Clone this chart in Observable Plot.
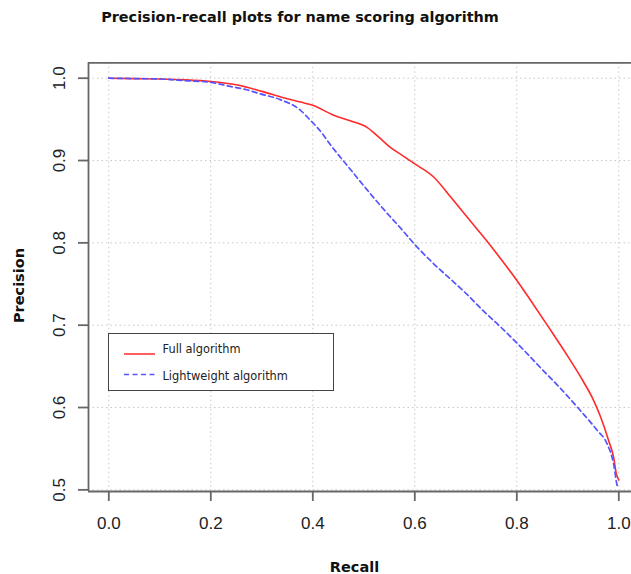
<!DOCTYPE html>
<html>
<head>
<meta charset="utf-8">
<script src="https://cdn.jsdelivr.net/npm/d3@7"></script>
<script src="https://cdn.jsdelivr.net/npm/@observablehq/plot@0.6"></script>
<style>
  html, body { margin: 0; padding: 0; background: #fff; }
  #wrap { position: relative; width: 631px; height: 574px; overflow: hidden; }
  #title { position: absolute; left: 0; top: 7px; width: 600px; text-align: center;
           font: bold 14.4px "DejaVu Sans", sans-serif; line-height: 20px; color: #111; }
  #chart { position: absolute; left: 0; top: 40px; }
  #legend { position: absolute; left: 108px; top: 333px; width: 226px; height: 58px;
            border: 1.5px solid #444; background: #fff; box-sizing: border-box; }
  #legend svg { position: absolute; left: -1.5px; top: -1.5px; }
</style>
</head>
<body>
<div id="wrap">
  <div id="title">Precision-recall plots for name scoring algorithm</div>
  <div id="chart"></div>
  <div id="legend"></div>
</div>
<script>
// ---- data ----
const recallFull = [0, 0.05, 0.10, 0.15, 0.20, 0.25, 0.30, 0.35, 0.376, 0.40, 0.441, 0.475, 0.507, 0.53, 0.552, 0.576, 0.600, 0.637, 0.670, 0.703, 0.735, 0.768, 0.804, 0.824, 0.862, 0.895, 0.931, 0.948, 0.964, 0.980, 0.990, 0.995, 1.0];
const precisionFull = [1.0, 0.9995, 0.999, 0.998, 0.996, 0.992, 0.984, 0.975, 0.971, 0.967, 0.955, 0.948, 0.940, 0.928, 0.916, 0.906, 0.896, 0.880, 0.856, 0.831, 0.807, 0.781, 0.751, 0.733, 0.698, 0.667, 0.631, 0.612, 0.589, 0.560, 0.539, 0.520, 0.512];

const recallLight = [0, 0.05, 0.10, 0.15, 0.20, 0.238, 0.27, 0.297, 0.336, 0.376, 0.395, 0.409, 0.441, 0.474, 0.507, 0.540, 0.572, 0.600, 0.638, 0.670, 0.703, 0.735, 0.768, 0.791, 0.807, 0.847, 0.886, 0.925, 0.958, 0.977, 0.990, 0.997, 1.0];
const precisionLight = [1.0, 0.9995, 0.999, 0.997, 0.995, 0.990, 0.986, 0.981, 0.974, 0.961, 0.949, 0.940, 0.914, 0.889, 0.864, 0.840, 0.818, 0.798, 0.774, 0.756, 0.737, 0.717, 0.698, 0.684, 0.674, 0.648, 0.623, 0.596, 0.572, 0.556, 0.531, 0.505, 0.502];

const xTicks = [0.0, 0.2, 0.4, 0.6, 0.8, 1.0];
const yTicks = [0.5, 0.6, 0.7, 0.8, 0.9, 1.0];
const seriesNames = ["Full algorithm", "Lightweight algorithm"];
const seriesColors = ["#ff2a2a", "#5555ff"];

// ---- build ----
const full = recallFull.map((r, i) => ({recall: r, precision: precisionFull[i]}));
const light = recallLight.map((r, i) => ({recall: r, precision: precisionLight[i]}));

const xDomain = [-0.0398, 1.0249];
const yDomain = [0.498, 1.0187];
const frameColor = "#666";
const gridStyle = {stroke: "#c8c8c8", strokeWidth: 1, strokeDasharray: "1.5,3"};

const plot = Plot.plot({
  width: 631,
  height: 534,
  marginLeft: 88,
  marginRight: 0,
  marginTop: 22.3,
  marginBottom: 83,
  style: {background: "transparent", fontFamily: "'Liberation Sans', Arial, sans-serif", overflow: "visible"},
  x: {domain: xDomain, axis: null},
  y: {domain: yDomain, axis: null},
  marks: [
    Plot.ruleX(xTicks, gridStyle),
    Plot.ruleY(yTicks, gridStyle),
    Plot.line(full, {x: "recall", y: "precision", stroke: seriesColors[0], strokeWidth: 1.6, curve: "monotone-x"}),
    Plot.line(light, {x: "recall", y: "precision", stroke: seriesColors[1], strokeWidth: 1.7, strokeDasharray: "5,3.5", curve: "monotone-x"}),
    // frame (box)
    Plot.ruleY([yDomain[1], yDomain[0]], {stroke: frameColor, strokeWidth: 1.8}),
    Plot.ruleX([xDomain[0]], {stroke: frameColor, strokeWidth: 1.8}),
    // tick marks
    Plot.axisX({ticks: xTicks, tickSize: 10, tickFormat: () => "", stroke: frameColor, strokeWidth: 1.8, label: null}),
    Plot.axisY({ticks: yTicks, tickSize: 10, tickFormat: () => "", stroke: frameColor, strokeWidth: 1.8, label: null}),
    // tick labels
    Plot.text(xTicks, {x: d => d, frameAnchor: "bottom", dy: 37, lineAnchor: "bottom", text: d => d.toFixed(1), fontSize: 17, fill: "#222"}),
    Plot.text(yTicks, {y: d => d, frameAnchor: "left", dx: -23.3, rotate: -90, textAnchor: "middle", lineAnchor: "bottom", text: d => d.toFixed(1), fontSize: 17, fill: "#222"}),
    // axis titles
    Plot.text(["Recall"], {frameAnchor: "bottom", dx: -5.5, dy: 80, lineAnchor: "bottom", text: d => d, fontFamily: "'DejaVu Sans', sans-serif", fontWeight: "bold", fontSize: 14.5, fill: "#111"}),
    Plot.text(["Precision"], {frameAnchor: "left", dx: -65, dy: 8.4, rotate: -90, textAnchor: "middle", lineAnchor: "bottom", text: d => d, fontFamily: "'DejaVu Sans', sans-serif", fontWeight: "bold", fontSize: 14.5, fill: "#111"})
  ]
});
document.getElementById("chart").appendChild(plot);

// ---- legend ----
const lg = d3.select("#legend").append("svg").attr("width", 228).attr("height", 60)
  .style("font-family", "'DejaVu Sans', sans-serif").style("font-size", "11.4px");
const rows = [
  {name: seriesNames[0], color: seriesColors[0], dash: null, lineY: 21, textY: 20},
  {name: seriesNames[1], color: seriesColors[1], dash: "5,3.5", lineY: 41.5, textY: 46.5}
];
rows.forEach(r => {
  lg.append("line").attr("x1", 16).attr("x2", 47).attr("y1", r.lineY).attr("y2", r.lineY)
    .attr("stroke", r.color).attr("stroke-width", 1.5).attr("stroke-dasharray", r.dash);
  lg.append("text").attr("x", 54.5).attr("y", r.textY).attr("fill", "#222").text(r.name);
});
</script>
</body>
</html>
